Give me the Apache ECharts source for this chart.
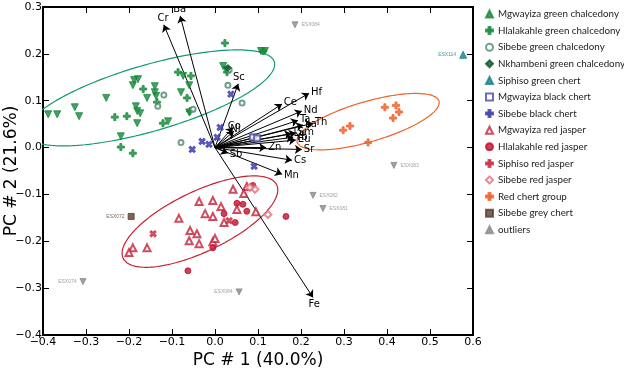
<!DOCTYPE html>
<html><head><meta charset="utf-8">
<script src="https://cdn.jsdelivr.net/npm/echarts@6/dist/echarts.min.js"></script>
<style>html,body{margin:0;padding:0;background:#fff}#c{width:624px;height:370px}</style>
</head><body><div id="c"></div>
<script>
// ---------- DATA ----------
const xAxisTitle = 'PC # 1 (40.0%)';
const yAxisTitle = 'PC # 2 (21.6%)';
const xRange = [-0.4, 0.6];
const yRange = [-0.4, 0.3];

const groupNames = ['Mgwayiza green chalcedony','Hlalakahle green chalcedony','Sibebe green chalcedony','Nkhambeni green chalcedony','Siphiso green chert','Mgwayiza black chert','Sibebe black chert','Mgwayiza red jasper','Hlalakahle red jasper','Siphiso red jasper','Sibebe red jasper','Red chert group','Sibebe grey chert','outliers'];

const mgwayizaGreenChalcedony = [[-0.388,0.071],[-0.367,0.071],[-0.326,0.086],[-0.316,0.067],[-0.253,0.106],[-0.219,0.024],[-0.188,0.144],[-0.179,0.146],[-0.191,0.133],[-0.184,0.088],[-0.181,0.078],[-0.174,0.073],[-0.181,0.052],[-0.158,0.106],[-0.140,0.131],[-0.140,0.118],[-0.137,0.110],[-0.074,0.153],[-0.079,0.118],[-0.060,0.133],[-0.109,0.056],[-0.060,0.075],[0.019,0.174],[0.026,0.166],[0.107,0.206],[0.116,0.206]];
const hlalakahleGreenChalcedony = [[0.023,0.223],[-0.167,0.125],[-0.233,0.065],[-0.205,0.067],[-0.219,0.001],[-0.191,-0.012],[-0.121,0.052],[-0.086,0.161],[-0.056,0.153],[-0.065,0.106],[-0.135,0.097],[-0.058,0.078],[0.028,0.161],[0.112,0.206]];
const sibebeGreenChalcedony = [[-0.119,0.112],[-0.133,0.088],[-0.051,0.082],[0.030,0.133],[0.063,0.095],[-0.079,0.011],[0.033,0.166]];
const nkhambeniGreenChalcedony = [[0.030,0.170]];
const siphisoGreenChert = [[0.577,0.198]];
const siphisoGreenChertIds = ['ESX114'];
const mgwayizaBlackChert = [[0.088,0.022],[0.098,0.020]];
const sibebeBlackChert = [[0.037,0.114],[0.012,0.043],[0.005,0.022],[-0.030,0.013],[-0.014,0.007],[-0.053,-0.004],[0.091,-0.040]];
const mgwayizaRedJasper = [[0.042,-0.089],[0.074,-0.083],[0.067,-0.098],[-0.037,-0.115],[-0.005,-0.113],[0.014,-0.126],[-0.023,-0.141],[-0.005,-0.147],[-0.084,-0.151],[0.051,-0.132],[0.021,-0.160],[-0.058,-0.177],[-0.042,-0.184],[-0.060,-0.199],[-0.037,-0.205],[-0.005,-0.201],[0.000,-0.194],[-0.191,-0.214],[-0.158,-0.214],[-0.200,-0.224],[0.095,-0.137]];
const hlalakahleRedJasper = [[0.088,-0.081],[0.051,-0.119],[0.065,-0.121],[0.074,-0.136],[0.021,-0.141],[0.047,-0.160],[-0.005,-0.214],[-0.063,-0.263],[0.165,-0.147]];
const siphisoRedJasper = [[-0.144,-0.184],[0.033,-0.156]];
const sibebeRedJasper = [[0.093,-0.089],[0.123,-0.143],[0.081,-0.085]];
const redChertGroup = [[0.298,0.037],[0.314,0.046],[0.395,0.086],[0.421,0.090],[0.428,0.076],[0.414,0.063],[0.356,0.011]];
const sibebeGreyChert = [[-0.195,-0.147]];
const sibebeGreyChertIds = ['ESX072'];
const outliers = [[0.186,0.262],[0.416,-0.038],[0.228,-0.102],[0.251,-0.130],[-0.307,-0.286],[0.056,-0.308]];
const outlierIds = ['ESX084','ESX083','ESX082','ESX081','ESX074','ESX084'];
const outlierLabelSide = ['right','right','right','right','left','left'];

// loadings (arrow tips)
const loadingNames = ['Ba','Cr','Sc','Co','Ni','Hf','Ce','Nd','Ta','La','Th','Sm','Lu','Yb','Eu','Zn','Sr','Cs','Mn','Sb','Fe'];
const loadingX = [-0.081,-0.119,0.054,0.042,0.044,0.219,0.156,0.202,0.193,0.205,0.228,0.188,0.178,0.182,0.188,0.119,0.202,0.179,0.156,0.030,0.228];
const loadingY = [0.281,0.262,0.136,0.043,0.035,0.116,0.093,0.078,0.058,0.048,0.052,0.031,0.030,0.022,0.016,0.000,-0.004,-0.027,-0.057,-0.012,-0.320];

// confidence ellipses: centre, semi-major vector, semi-minor vector (data units)
const greenEllipse = {c:[-0.151,0.106], u:[0.289,0.077], v:[-0.0224,0.0676]};
const redEllipse = {c:[-0.035,-0.158], u:[0.1786,0.0784], v:[-0.030,0.058]};
const orangeEllipse = {c:[0.356,0.0553], u:[0.165,0.0439], v:[-0.0129,0.0412]};

// ---------- STYLE ----------
const PLUS = 'path://M3.6,0H6.4V3.6H10V6.4H6.4V10H3.6V6.4H0V3.6H3.6Z';
const TXT = 'DejaVu Sans';
function ellipse(e){const p=[];for(let i=0;i<=160;i++){const t=2*Math.PI*i/160;p.push([e.c[0]+e.u[0]*Math.cos(t)+e.v[0]*Math.sin(t),e.c[1]+e.u[1]*Math.cos(t)+e.v[1]*Math.sin(t)]);}return p;}
function fmt(v){const s=Math.abs(v)<1e-9?'0.0':v.toFixed(1);return s.replace('-','\u2212');}

const groups = [
  {data:mgwayizaGreenChalcedony, symbol:'triangle', rot:180, size:7, color:'#178a3c'},
  {data:hlalakahleGreenChalcedony, symbol:PLUS, rot:0, size:7, color:'#178a3c'},
  {data:sibebeGreenChalcedony, symbol:'emptyCircle', rot:0, size:5, color:'#4f8a6c'},
  {data:nkhambeniGreenChalcedony, symbol:'diamond', rot:0, size:7, color:'#0d5a2c'},
  {data:siphisoGreenChert, symbol:'triangle', rot:0, size:7, color:'#17808f', ids:siphisoGreenChertIds, side:['left']},
  {data:mgwayizaBlackChert, symbol:'emptyRect', rot:0, size:6, color:'#4a4aa6'},
  {data:sibebeBlackChert, symbol:PLUS, rot:45, size:7, color:'#3c3cb0'},
  {data:mgwayizaRedJasper, symbol:'emptyTriangle', rot:0, size:7, color:'#c4203a'},
  {data:hlalakahleRedJasper, symbol:'circle', rot:0, size:6, color:'#c0102a'},
  {data:siphisoRedJasper, symbol:PLUS, rot:45, size:7, color:'#c83040'},
  {data:sibebeRedJasper, symbol:'emptyDiamond', rot:0, size:7, color:'#e07080'},
  {data:redChertGroup, symbol:PLUS, rot:0, size:7, color:'#f0602a'},
  {data:sibebeGreyChert, symbol:'rect', rot:0, size:6, color:'#5a4030', ids:sibebeGreyChertIds, side:['left']},
  {data:outliers, symbol:'triangle', rot:180, size:6, color:'#8a8a8a', ids:outlierIds, side:outlierLabelSide}
];

const series = [];
[[greenEllipse,'#119a6c'],[redEllipse,'#c8202f'],[orangeEllipse,'#f0622a']].forEach(([e,col])=>{
  series.push({type:'line', data:ellipse(e), showSymbol:false, symbol:'none', lineStyle:{color:col,width:1.2}, silent:true, z:1});
});
series.push({type:'lines', coordinateSystem:'cartesian2d', z:3,
  symbol:['none','arrow'], symbolSize:7,
  lineStyle:{color:'#000',width:1,opacity:1},
  label:{show:true, position:'end', formatter:'{b}', fontFamily:TXT, fontSize:10, color:'#000', distance:2},
  data: loadingNames.map((n,i)=>({name:n, coords:[[0,0],[loadingX[i],loadingY[i]]]}))
});
groups.forEach((g,gi)=>{
  series.push({type:'scatter', name:groupNames[gi], symbol:g.symbol, symbolRotate:g.rot, symbolSize:g.size, z:4,
    itemStyle:{color:g.color, borderColor:g.color, borderWidth:1},
    data:g.data.map((p,i)=>{
      const d={value:p};
      if(g.ids){d.name=g.ids[i];d.label={show:true,position:g.side[i],formatter:'{b}',fontSize:5,color:(gi===4?'#17808f':(gi===12?'#5a4030':'#8a8a8a')),distance:3};}
      return d;})
  });
});

const axisCommon = {type:'value', splitLine:{show:false},
  axisLine:{onZero:false, lineStyle:{color:'#000',width:2}},
  axisTick:{inside:true, length:6, lineStyle:{color:'#000',width:1}}};

const chart = echarts.init(document.getElementById('c'), null, {renderer:'canvas'});
chart.setOption({
  animation:false,
  backgroundColor:'#fff',
  grid:{left:43, right:151, top:7, bottom:35, containLabel:false, outerBoundsMode:'none'},
  legend:{orient:'vertical', left:480, top:4, itemWidth:7, itemHeight:7, itemGap:6.6,
    data:groupNames, textStyle:{fontFamily:'Lato', fontSize:9.8, color:'#222'}, selectedMode:false},
  xAxis:[
    Object.assign({}, axisCommon, {min:xRange[0], max:xRange[1], interval:0.1, position:'bottom',
      axisLabel:{formatter:fmt, fontFamily:TXT, fontSize:11, color:'#000', margin:2},
      name:xAxisTitle, nameLocation:'middle', nameGap:17, nameMoveOverlap:false, nameTextStyle:{fontFamily:TXT, fontSize:17, color:'#000'}}),
    Object.assign({}, axisCommon, {min:xRange[0], max:xRange[1], interval:0.1, position:'top', axisLabel:{show:false}})
  ],
  yAxis:[
    Object.assign({}, axisCommon, {min:yRange[0], max:yRange[1], interval:0.1, position:'left',
      axisLabel:{formatter:fmt, fontFamily:TXT, fontSize:11, color:'#000', margin:1},
      name:yAxisTitle, nameLocation:'middle', nameGap:23, nameMoveOverlap:false, nameTextStyle:{fontFamily:TXT, fontSize:17, color:'#000'}}),
    Object.assign({}, axisCommon, {min:yRange[0], max:yRange[1], interval:0.1, position:'right', axisLabel:{show:false}})
  ],
  series: series
});
</script></body></html>
